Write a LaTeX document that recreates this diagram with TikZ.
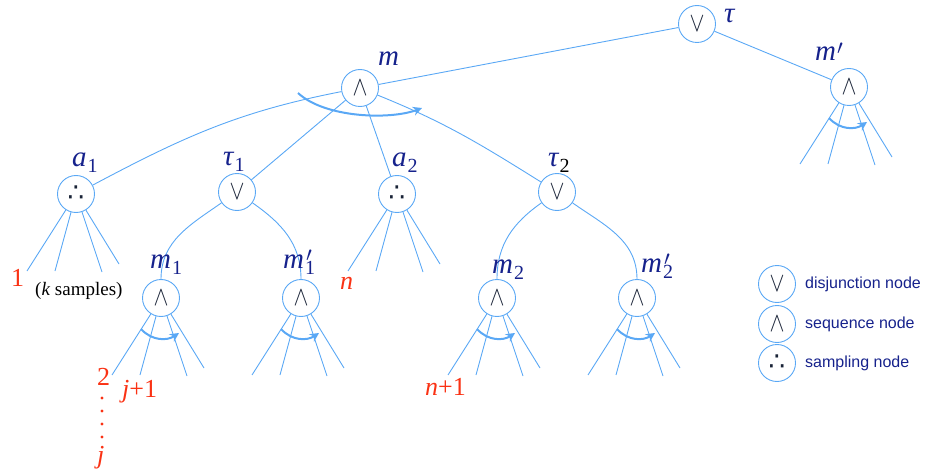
\documentclass[tikz,border=0pt]{standalone}
\usepackage{fontspec}
\usepackage{graphicx}
\setmainfont{Liberation Serif}
\setsansfont{Liberation Sans}
\newfontfamily\symfont{DejaVu Sans}
\usetikzlibrary{arrows.meta}
\definecolor{edgeblue}{RGB}{90,168,245}
\definecolor{labblue}{RGB}{22,34,140}
\definecolor{symdark}{RGB}{25,35,55}
\definecolor{numred}{RGB}{250,50,20}
\newcommand\lsub[1]{\kern1pt\raisebox{-6pt}{\fontsize{20}{20}\selectfont\upshape #1}}
\newcommand\lprime{\raisebox{6pt}{\fontsize{20}{20}\selectfont$\prime$}}
\newcommand\lprsub[1]{\kern1pt\rlap{\kern1pt\lprime}\raisebox{-6pt}{\fontsize{20}{20}\selectfont\upshape #1}}
\newcommand\lpr{\kern1pt\lprime}
\newcommand\symor{{\fontsize{34}{34}\selectfont\scalebox{0.9}[1.1]{$\vee$}}}
\newcommand\symand{{\fontsize{34}{34}\selectfont\scalebox{0.9}[1.1]{$\wedge$}}}
\newcommand\symsam{{\symfont\fontsize{26}{26}\selectfont ∴}}
\tikzset{
  tnode/.style={circle, draw=edgeblue, line width=0.9pt, minimum size=37pt, inner sep=0pt,
    text=symdark},
  conn/.style={draw=edgeblue, line width=0.9pt},
  seqarr/.style={draw=edgeblue, line width=2pt, -{Stealth[length=9pt,width=9pt]}},
  lbl/.style={text=labblue, font=\fontsize{29}{29}\selectfont\itshape, inner sep=0pt, anchor=base west},
  num/.style={text=numred, font=\fontsize{26}{26}\selectfont, inner sep=0pt, anchor=base west},
  legtxt/.style={text=labblue, font=\sffamily\fontsize{16}{16}\selectfont, anchor=west, inner sep=0pt},
}
\begin{document}
\begin{tikzpicture}[x=1pt,y=1pt]
\useasboundingbox (0,0) rectangle (927,-476);
% nodes
\node[tnode] (tau) at (697,-24) {\symor};
\node[tnode] (mp)  at (849,-87) {\symand};
\node[tnode] (m)   at (360,-88) {\symand};
\node[tnode] (a1)  at (76,-194) {\symsam};
\node[tnode] (t1)  at (237,-192) {\symor};
\node[tnode] (a2)  at (397,-194) {\symsam};
\node[tnode] (t2)  at (557,-192) {\symor};
\node[tnode] (m1)  at (161,-298) {\symand};
\node[tnode] (m1p) at (301,-298) {\symand};
\node[tnode] (m2)  at (497,-298) {\symand};
\node[tnode] (m2p) at (637,-298) {\symand};
% legend
\node[tnode] (L1) at (777,-284) {\symor};
\node[tnode] (L2) at (777,-324) {\symand};
\node[tnode] (L3) at (777,-363) {\symsam};
\node[legtxt] (T1) at (805,-284) {disjunction node};
\node[legtxt] (T2) at (805,-324) {sequence node};
\node[legtxt] (T3) at (805,-363) {sampling node};
% edges
\draw[conn] (tau) -- (m);
\draw[conn] (tau) -- (mp);
\draw[conn] (m) to[out=191, in=28] (a1);
\draw[conn] (m) to[out=-22, in=148] (t2);
\draw[conn] (m) -- (t1);
\draw[conn] (m) -- (a2);
\draw[conn] (t1) to[out=215, in=90] (m1);
\draw[conn] (t1) to[out=-35, in=90] (m1p);
\draw[conn] (t2) to[out=215, in=90] (m2);
\draw[conn] (t2) to[out=-35, in=90] (m2p);
% sequence arrow at m
\coordinate (mA) at ([shift={(-62,-5)}]m.center);
\coordinate (mB) at ([shift={(62,-20)}]m.center);
\draw[seqarr] (mA) .. controls ([shift={(-35,-30)}]m.center) and ([shift={(30,-32)}]m.center) .. (mB);
% fans
\foreach \n in {a1,a2,m1,m1p,m2,m2p,mp} {
  \coordinate (\n-e1) at ([shift={(-49,-77)}]\n.center);
  \coordinate (\n-e2) at ([shift={(-21,-77)}]\n.center);
  \coordinate (\n-e3) at ([shift={(26,-78)}]\n.center);
  \coordinate (\n-e4) at ([shift={(43,-70)}]\n.center);
  \draw[conn] (\n) -- (\n-e1);
  \draw[conn] (\n) -- (\n-e2);
  \draw[conn] (\n) -- (\n-e3);
  \draw[conn] (\n) -- (\n-e4);
}
\foreach \n in {m1,m1p,m2,m2p,mp} {
  \coordinate (\n-s) at ([shift={(-20,-31)}]\n.center);
  \coordinate (\n-t) at ([shift={(18,-35)}]\n.center);
  \draw[seqarr] (\n-s) .. controls ([shift={(-9,-43)}]\n.center) and ([shift={(6,-43)}]\n.center) .. (\n-t);
}
% labels
\node[lbl] (Ltau) at (724,-23) {τ};
\node[lbl] (Lm)   at (378,-66) {m};
\node[lbl] (Lmp)  at (815,-61) {m\lpr};
\node[lbl] (La1)  at (72,-167) {a\lsub{1}};
\node[lbl] (Lt1)  at (223,-166) {τ\lsub{1}};
\node[lbl] (La2)  at (392,-167) {a\lsub{2}};
\node[lbl] (Lt2)  at (548,-167) {τ\lsub{\textcolor{black}{2}}};
\node[lbl] (Lm1)  at (150,-268) {m\lsub{1}};
\node[lbl] (Lm1p) at (283,-268) {m\lprsub{1}};
\node[lbl] (Lm2)  at (492,-273) {m\lsub{2}};
\node[lbl] (Lm2p) at (641,-272) {m\lprsub{2}};
% red numbers
\node[num] (N1) at (11,-286) {1};
\node[inner sep=0pt, anchor=base west, font=\fontsize{19}{19}\selectfont] (ks) at (35,-295) {(\textit{k} samples)};
\node[num] (Nn) at (340,-289) {\textit{n}};
\node[num] (N2) at (97,-385) {2};
\foreach \yy in {398,411,424,437} {
  \fill[numred] (102,-\yy) circle (1.6);
}
\node[num] (Nj) at (97,-463) {\textit{j}};
\node[num] (Nj1) at (122,-397) {\textit{j}+1};
\node[num] (Nn1) at (425,-395) {\textit{n}+1};
\end{tikzpicture}
\end{document}
